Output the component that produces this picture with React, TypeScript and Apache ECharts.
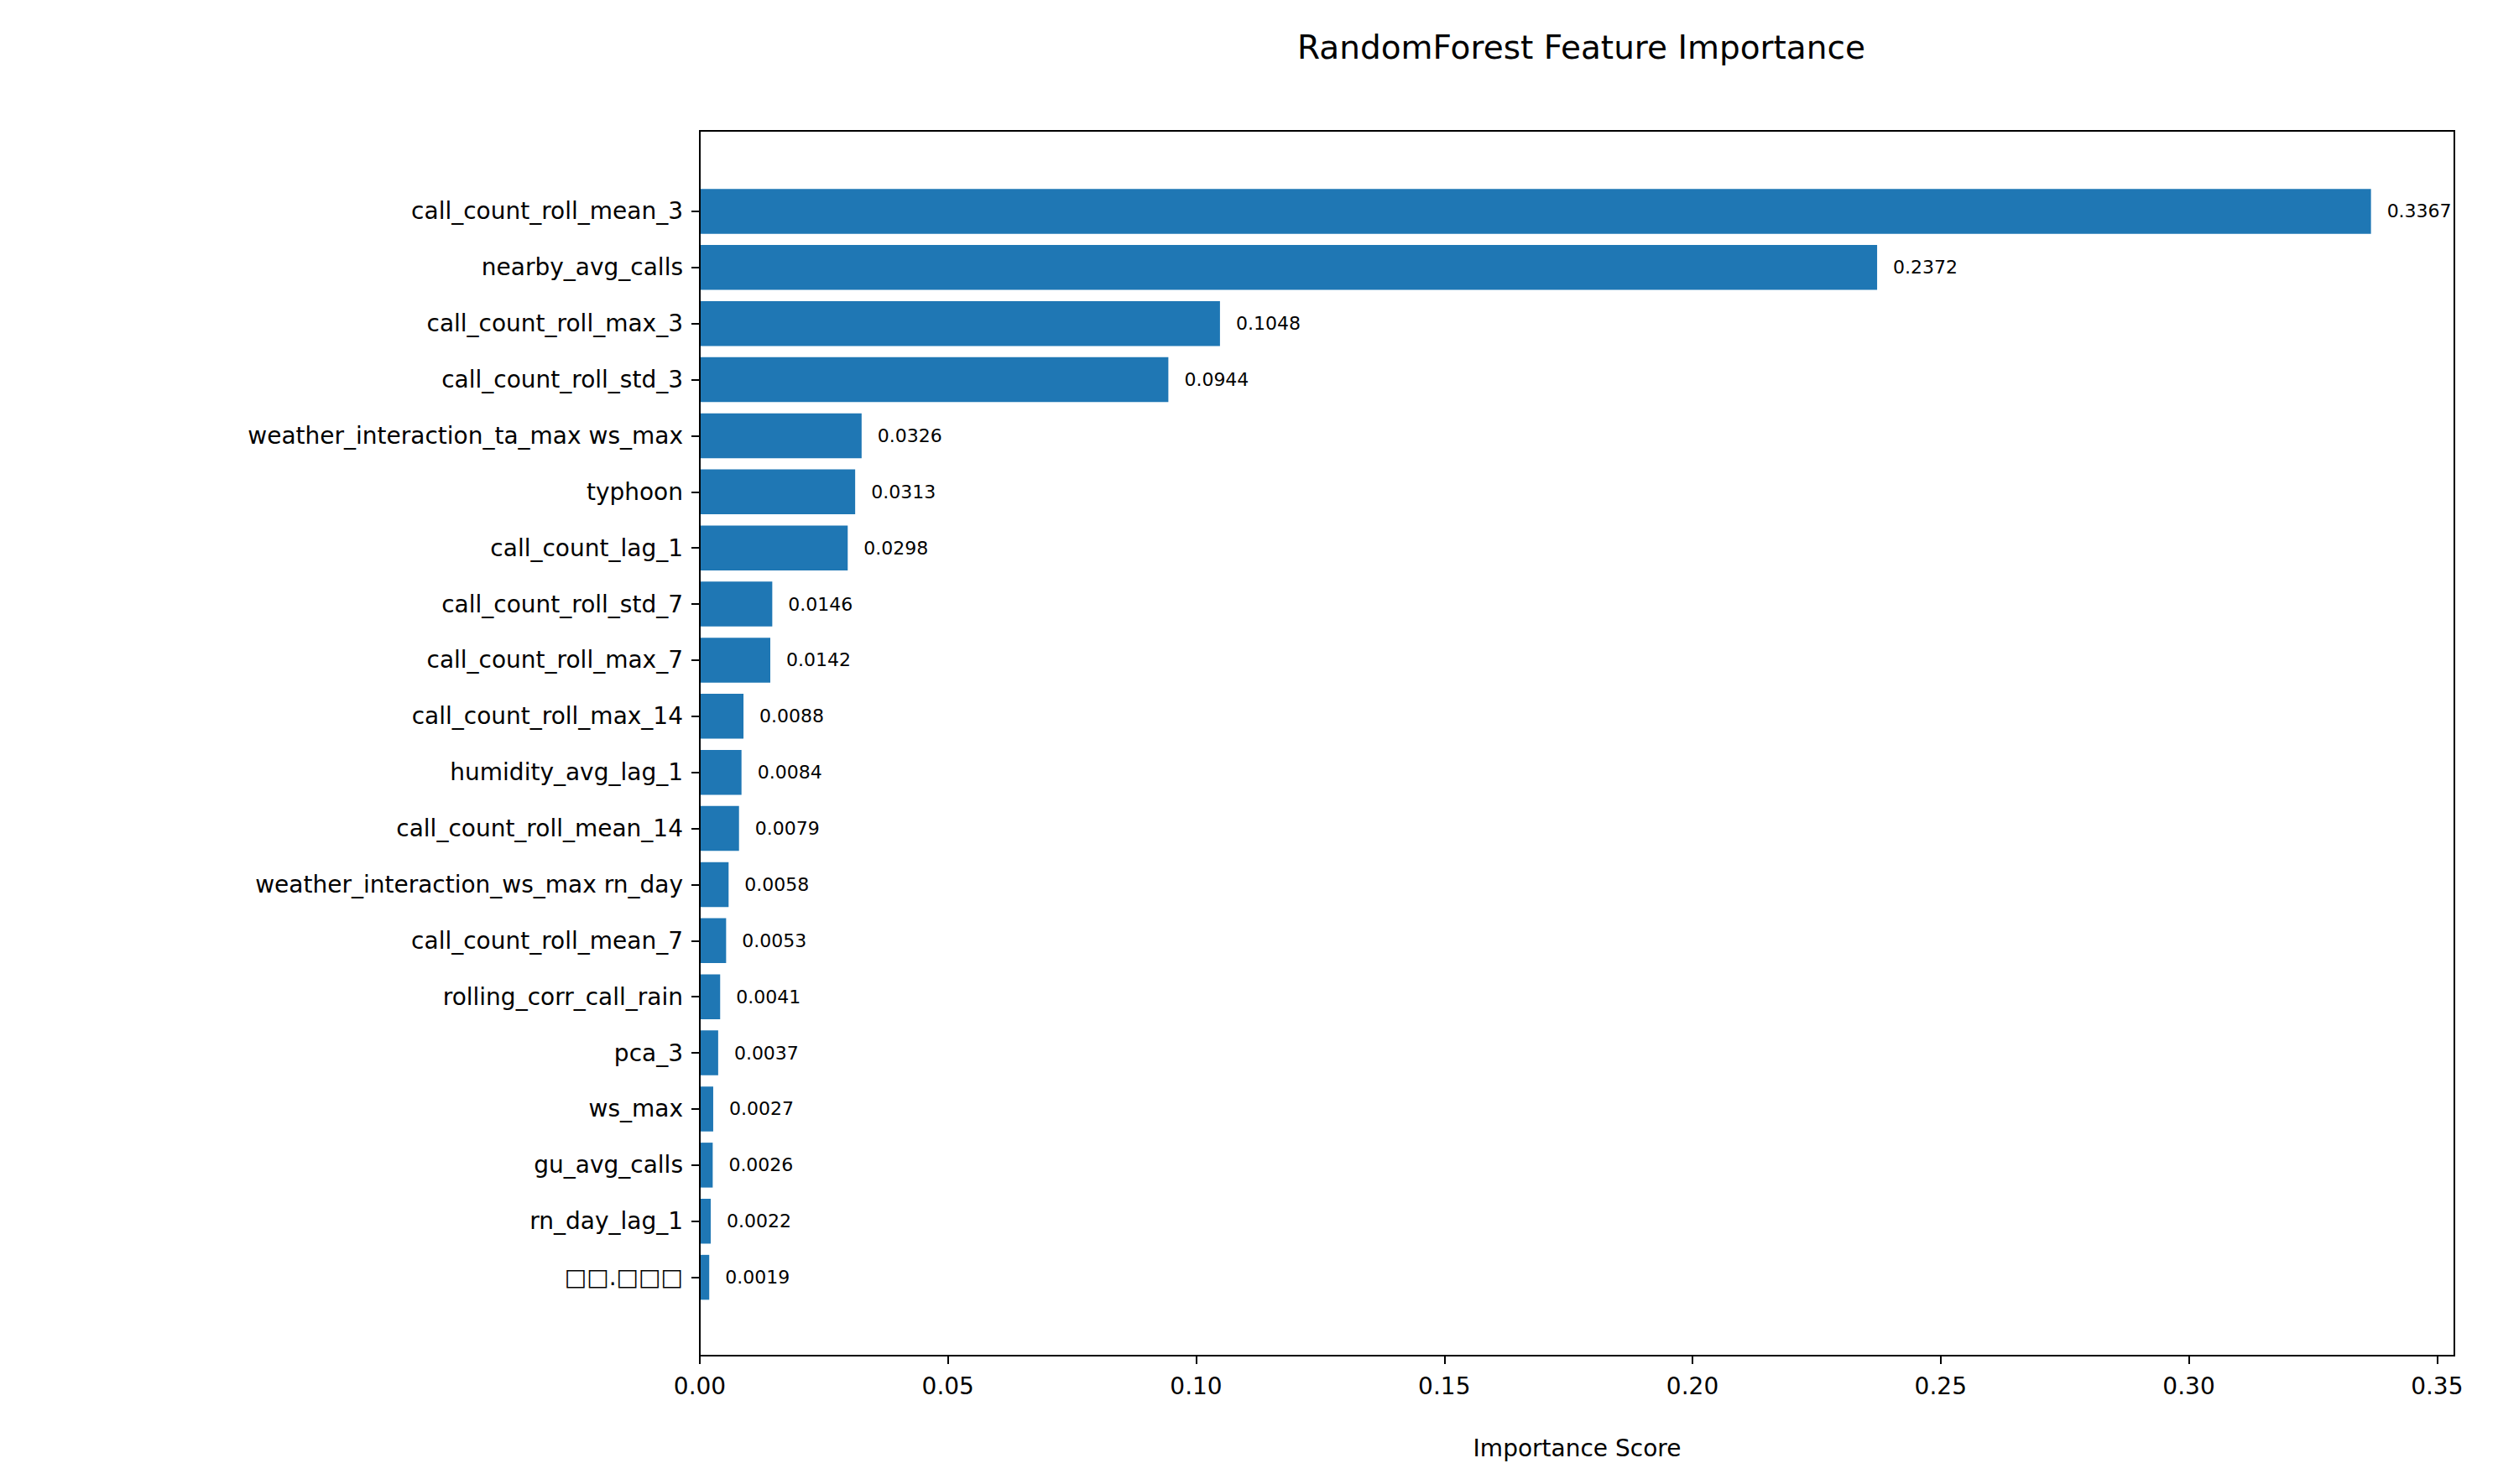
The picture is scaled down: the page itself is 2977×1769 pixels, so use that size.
import React, { useEffect, useRef } from "react";
import * as echarts from "echarts";

const features = [
  "call_count_roll_mean_3",
  "nearby_avg_calls",
  "call_count_roll_max_3",
  "call_count_roll_std_3",
  "weather_interaction_ta_max ws_max",
  "typhoon",
  "call_count_lag_1",
  "call_count_roll_std_7",
  "call_count_roll_max_7",
  "call_count_roll_max_14",
  "humidity_avg_lag_1",
  "call_count_roll_mean_14",
  "weather_interaction_ws_max rn_day",
  "call_count_roll_mean_7",
  "rolling_corr_call_rain",
  "pca_3",
  "ws_max",
  "gu_avg_calls",
  "rn_day_lag_1",
  "□□.□□□",
];
const importance = [
  0.3367, 0.2372, 0.1048, 0.0944, 0.0326, 0.0313, 0.0298, 0.0146, 0.0142, 0.0088,
  0.0084, 0.0079, 0.0058, 0.0053, 0.0041, 0.0037, 0.0027, 0.0026, 0.0022, 0.0019,
];

const FONT = "DejaVu Sans";

const App: React.FC = () => {
  const chartRef = useRef<HTMLDivElement>(null);

  useEffect(() => {
    if (!chartRef.current) return;
    const chart = echarts.init(chartRef.current, null, { renderer: "svg" });
    const W = chart.getWidth();
    const H = chart.getHeight();
    const left = 834, right = 2925, frameTop = 156, frameBottom = 1616;
    const band = 66.9;
    const gridTop = 252 - band / 2;
    const gridBottom = 1522.6 + band / 2;

    chart.setOption({
      animation: false,
      textStyle: { fontFamily: FONT },
      title: {
        text: "RandomForest Feature Importance",
        left: (left + right) / 2,
        top: 32,
        textAlign: "center",
        textStyle: { fontFamily: FONT, fontSize: 39, fontWeight: "normal", color: "#000" },
      },
      grid: { left, right: W - right, top: gridTop, bottom: H - gridBottom, containLabel: false },
      xAxis: {
        type: "value",
        min: 0,
        max: 0.3535,
        interval: 0.05,
        offset: frameBottom - gridBottom,
        name: "Importance Score",
        nameLocation: "middle",
        nameGap: 96,
        nameTextStyle: { fontFamily: FONT, fontSize: 28, color: "#000" },
        axisLine: { show: false },
        axisTick: { show: true, length: 10, lineStyle: { color: "#000", width: 2 } },
        axisLabel: {
          fontFamily: FONT, fontSize: 28, color: "#000", margin: 22,
          showMaxLabel: false,
          formatter: (v: number) => v.toFixed(2),
        },
        splitLine: { show: false },
      },
      yAxis: {
        type: "category",
        data: features,
        inverse: true,
        axisLine: { show: false },
        axisTick: { show: true, alignWithLabel: true, length: 10, lineStyle: { color: "#000", width: 2 } },
        axisLabel: { fontFamily: FONT, fontSize: 28, color: "#000", margin: 20 },
      },
      series: [
        {
          type: "bar",
          data: importance,
          barWidth: "80%",
          itemStyle: { color: "#1f77b4" },
          label: {
            show: true,
            position: "right",
            distance: 19,
            fontFamily: FONT,
            fontSize: 22,
            color: "#000",
            formatter: (p: any) => p.value.toFixed(4),
          },
        },
      ],
      graphic: [
        {
          type: "rect",
          shape: { x: left, y: frameTop, width: right - left, height: frameBottom - frameTop },
          style: { fill: "none", stroke: "#000", lineWidth: 2 },
          z: 10,
        },
      ],
    });

    const resize = () => chart.resize();
    window.addEventListener("resize", resize);
    return () => {
      window.removeEventListener("resize", resize);
      chart.dispose();
    };
  }, []);

  return (
    <div
      ref={chartRef}
      style={{ position: "fixed", left: 0, top: 0, width: "100vw", height: "100vh", background: "#fff" }}
    />
  );
};

export default App;
